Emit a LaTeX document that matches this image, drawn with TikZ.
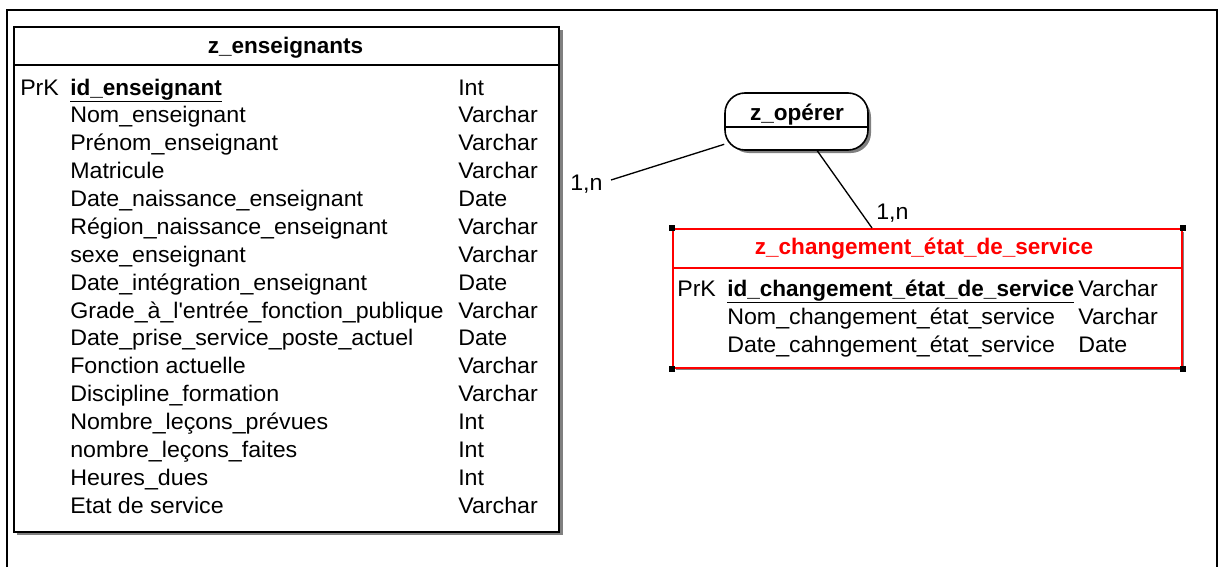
\documentclass[tikz,border=0pt]{standalone}
\usepackage{fontspec}
\setmainfont{Liberation Sans}[UprightFeatures={FakeStretch=1.03}]
\usepackage{tikz}
\newcommand{\mcdfont}{\fontsize{16.9}{20}\selectfont}

\begin{document}
\begin{tikzpicture}[x=0.75pt,y=0.75pt,yscale=-1,xscale=1,
  txt/.style={anchor=base west,inner sep=0pt,font=\mcdfont},
  ttl/.style={anchor=base,inner sep=0pt,font=\mcdfont\bfseries},
  shade/.style={draw=none,fill={rgb, 255:red, 128; green, 128; blue, 128 }},
  handle/.style={fill=black,draw=none,minimum size=4.5pt,inner sep=0pt}]
\useasboundingbox (0,0) rectangle (1219,567);

%Shape: Frame
\draw [line width=1.5] (7,567) -- (7,10) -- (1217,10) -- (1217,567) ;

%Shape: Shadow of z_enseignants
\fill [shade] (17,30) rectangle (563,535) ;
%Shape: Rectangle z_enseignants
\node (ens) [draw,fill=white,line width=1.2,inner sep=0pt,minimum width=408.75pt,minimum height=378.75pt,anchor=north west] at (13,26) {};
%Straight Lines
\draw [line width=1.2] (13,65) -- (558,65) ;

%Shape: Shadow of z_changement
\fill [shade] (676,232) rectangle (1184,370) ;
%Shape: Rectangle z_changement
\node (chg) [draw={rgb, 255:red, 255; green, 0; blue, 0 },fill=white,line width=1.2,inner sep=0pt,minimum width=381.75pt,minimum height=104.25pt,anchor=north west] at (672,228) {};
%Straight Lines
\draw [color={rgb, 255:red, 255; green, 0; blue, 0 },line width=1.2] (672,268) -- (1181,268) ;
%Shape: Handles
\node (h1) [handle] at (chg.north west) {};
\node (h2) [handle] at (chg.north east) {};
\node (h3) [handle] at (chg.south west) {};
\node (h4) [handle] at (chg.south east) {};

%Shape: Shadow of z_opérer
\fill [shade,rounded corners=15pt] (729,97) rectangle (871,153) ;
%Shape: Rounded Rect z_opérer
\node (oper) [draw,fill=white,rounded corners=15pt,line width=1.2,inner sep=0pt,minimum width=107.25pt,minimum height=42.75pt] at (796.5,121.5) {};
%Straight Lines
\draw [line width=1.2] (725,127) -- (868,127) ;

%Straight Lines
\coordinate (c1) at (611,180);
\coordinate (c2) at (872,228);
\draw [line width=1] (oper) -- (c1) ;
\draw [line width=1] (oper) -- (c2) ;

% Text Node
\draw (285.5,54) node (tens) [ttl] {z\_enseignants};
% Text Node
\draw (797,120) node (toper) [ttl] {z\_opérer};
% Text Node
\draw (924,254) node (tchg) [ttl,text={rgb, 255:red, 255; green, 0; blue, 0 }] {z\_changement\_état\_de\_service};
% Text Node
\draw (570,190) node (card1) [txt] {1,n};
% Text Node
\draw (876,219) node (card2) [txt] {1,n};

% Text Node
\draw (20,95) node (pk1) [txt] {PrK};
% Text Node
\draw (70,95) node (a0) [txt] {\bfseries\underline{id\_enseignant}};
% Text Node
\draw (458,95) node (b0) [txt] {Int};
% Text Node
\draw (70,122.9) node (a1) [txt] {Nom\_enseignant};
% Text Node
\draw (458,122.9) node (b1) [txt] {Varchar};
% Text Node
\draw (70,150.7) node (a2) [txt] {Prénom\_enseignant};
% Text Node
\draw (458,150.7) node (b2) [txt] {Varchar};
% Text Node
\draw (70,178.6) node (a3) [txt] {Matricule};
% Text Node
\draw (458,178.6) node (b3) [txt] {Varchar};
% Text Node
\draw (70,206.5) node (a4) [txt] {Date\_naissance\_enseignant};
% Text Node
\draw (458,206.5) node (b4) [txt] {Date};
% Text Node
\draw (70,234.4) node (a5) [txt] {Région\_naissance\_enseignant};
% Text Node
\draw (458,234.4) node (b5) [txt] {Varchar};
% Text Node
\draw (70,262.2) node (a6) [txt] {sexe\_enseignant};
% Text Node
\draw (458,262.2) node (b6) [txt] {Varchar};
% Text Node
\draw (70,290.1) node (a7) [txt] {Date\_intégration\_enseignant};
% Text Node
\draw (458,290.1) node (b7) [txt] {Date};
% Text Node
\draw (70,318) node (a8) [txt] {Grade\_à\_l\textquotesingle entrée\_fonction\_publique};
% Text Node
\draw (458,318) node (b8) [txt] {Varchar};
% Text Node
\draw (70,345.8) node (a9) [txt] {Date\_prise\_service\_poste\_actuel};
% Text Node
\draw (458,345.8) node (b9) [txt] {Date};
% Text Node
\draw (70,373.7) node (a10) [txt] {Fonction actuelle};
% Text Node
\draw (458,373.7) node (b10) [txt] {Varchar};
% Text Node
\draw (70,401.6) node (a11) [txt] {Discipline\_formation};
% Text Node
\draw (458,401.6) node (b11) [txt] {Varchar};
% Text Node
\draw (70,429.4) node (a12) [txt] {Nombre\_leçons\_prévues};
% Text Node
\draw (458,429.4) node (b12) [txt] {Int};
% Text Node
\draw (70,457.3) node (a13) [txt] {nombre\_leçons\_faites};
% Text Node
\draw (458,457.3) node (b13) [txt] {Int};
% Text Node
\draw (70,485.2) node (a14) [txt] {Heures\_dues};
% Text Node
\draw (458,485.2) node (b14) [txt] {Int};
% Text Node
\draw (70,513) node (a15) [txt] {Etat de service};
% Text Node
\draw (458,513) node (b15) [txt] {Varchar};

% Text Node
\draw (677,296) node (pk2) [txt] {PrK};
% Text Node
\draw (727,296) node (d0) [txt] {\bfseries\underline{id\_changement\_état\_de\_service}};
% Text Node
\draw (1078,296) node (e0) [txt] {Varchar};
% Text Node
\draw (727,324) node (d1) [txt] {Nom\_changement\_état\_service};
% Text Node
\draw (1078,324) node (e1) [txt] {Varchar};
% Text Node
\draw (727,352) node (d2) [txt] {Date\_cahngement\_état\_service};
% Text Node
\draw (1078,352) node (e2) [txt] {Date};

\end{tikzpicture}
\end{document}
